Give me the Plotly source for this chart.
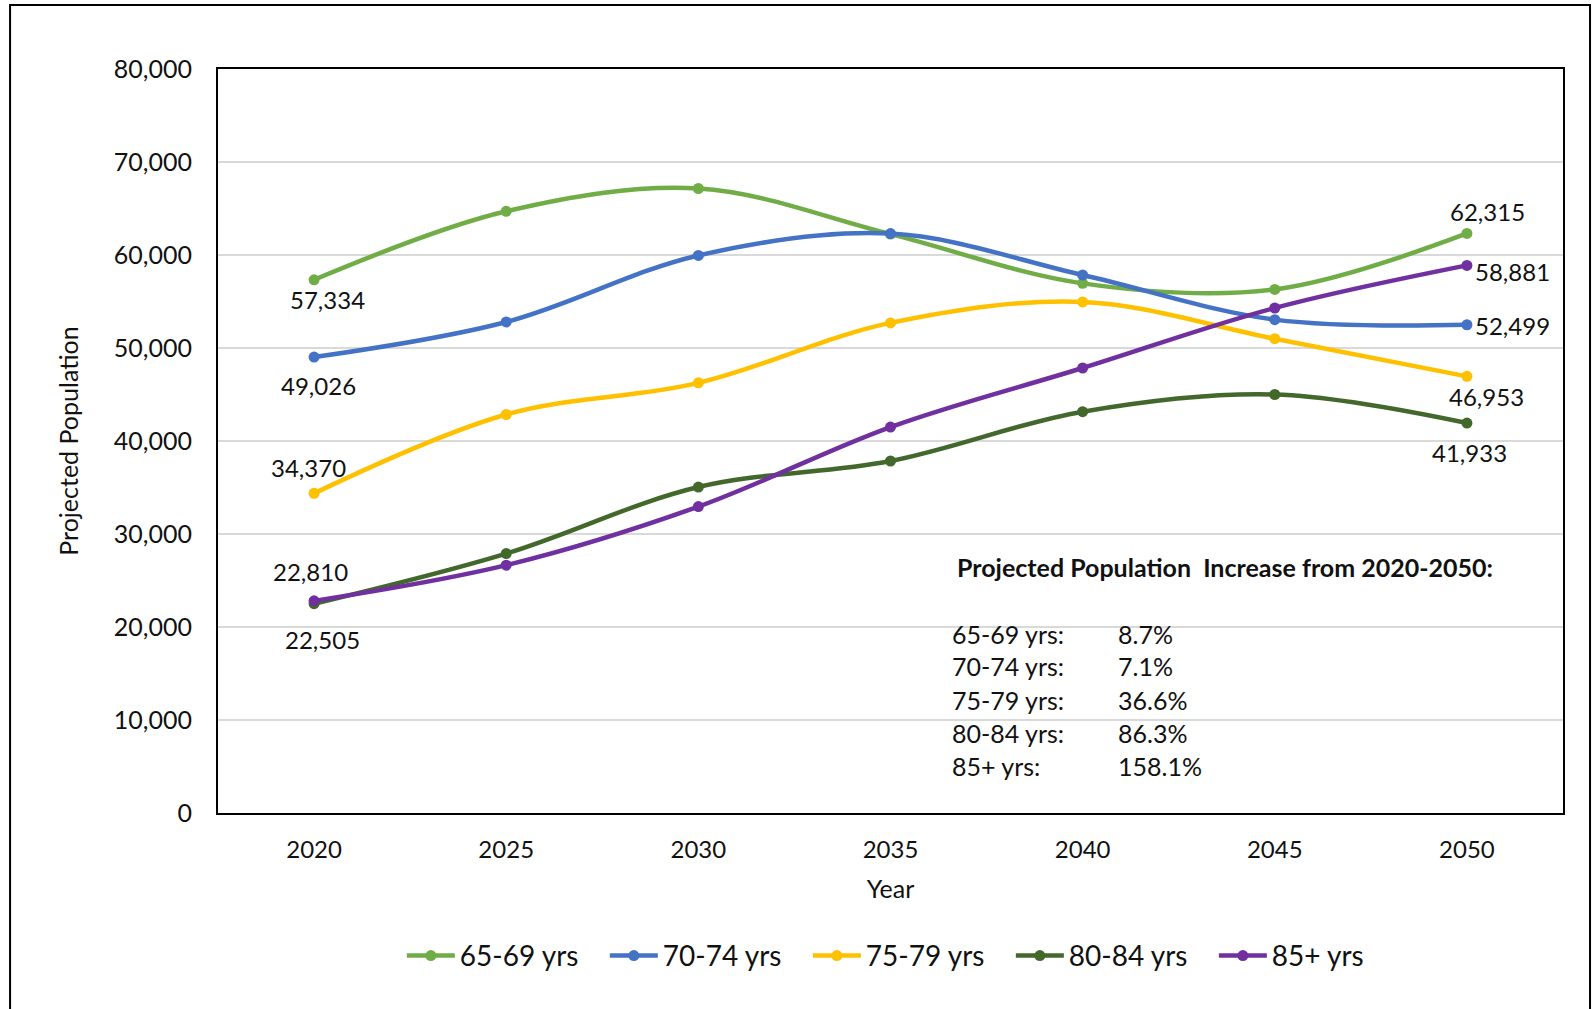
import plotly.graph_objects as go

years = ["2020", "2025", "2030", "2035", "2040", "2045", "2050"]
series_names = ["65-69 yrs", "70-74 yrs", "75-79 yrs", "80-84 yrs", "85+ yrs"]
pop_65_69 = [57334, 64700, 67150, 62250, 56950, 56300, 62315]
pop_70_74 = [49026, 52800, 59950, 62300, 57850, 53050, 52499]
pop_75_79 = [34370, 42850, 46250, 52700, 54950, 51000, 46953]
pop_80_84 = [22505, 27900, 35050, 37850, 43150, 45000, 41933]
pop_85_up = [22810, 26650, 32950, 41500, 47850, 54300, 58881]
y_ticks = [0, 10000, 20000, 30000, 40000, 50000, 60000, 70000, 80000]
y_tick_labels = ["0", "10,000", "20,000", "30,000", "40,000", "50,000", "60,000", "70,000", "80,000"]

all_series = [pop_65_69, pop_70_74, pop_75_79, pop_80_84, pop_85_up]
colors = ["#70AD47", "#4472C4", "#FFC000", "#43682B", "#7030A0"]

# label offsets (px) for first / last point, in series order: (xanchor, xshift, yshift)
start_label_style = [("center", 13, -20), ("center", 4, -28), ("center", -6, 26),
                     ("center", 8, -36), ("center", -4, 29)]
end_label_style = [("center", 21, 22), ("left", 6, -1), ("center", 20, -20),
                   ("center", 3, -29), ("left", 6, -6)]

FONT = "Lato, 'Open Sans', sans-serif"
TXT = "#111111"

fig = go.Figure()
for name, vals, col in zip(series_names, all_series, colors):
    fig.add_trace(go.Scatter(
        x=years, y=vals, name=name, mode="lines+markers",
        line=dict(color=col, width=4.5, shape="spline", smoothing=1.0),
        marker=dict(color=col, size=11),
    ))

annotations = []
last = len(years) - 1
for i, vals in enumerate(all_series):
    for idx, sty in ((0, start_label_style[i]), (last, end_label_style[i])):
        xa, xs, ys = sty
        annotations.append(dict(
            x=idx, y=vals[idx], xref="x", yref="y", text=f"{vals[idx]:,}",
            showarrow=False, xanchor=xa, yanchor="middle", xshift=xs, yshift=ys,
            font=dict(family=FONT, size=24, color=TXT)))

# summary text box
annotations.append(dict(
    x=0.548, y=0.331, xref="paper", yref="paper", xanchor="left", yanchor="middle",
    text="<b>Projected Population  Increase from 2020-2050:</b>", showarrow=False,
    font=dict(family=FONT, size=25, color=TXT)))
row_y = [0.2406, 0.197, 0.152, 0.108, 0.063]
for name, vals, ry in zip(series_names, all_series, row_y):
    pct = (vals[-1] / vals[0] - 1) * 100
    annotations.append(dict(x=0.5445, y=ry, xref="paper", yref="paper", xanchor="left",
                            yanchor="middle", text=f"{name}:", showarrow=False,
                            font=dict(family=FONT, size=25, color=TXT)))
    annotations.append(dict(x=0.668, y=ry, xref="paper", yref="paper", xanchor="left",
                            yanchor="middle", text=f"{pct:.1f}%", showarrow=False,
                            font=dict(family=FONT, size=25, color=TXT)))

shapes = [
    dict(type="rect", xref="paper", yref="paper", x0=0.535, x1=0.965, y0=0.03, y1=0.36,
         fillcolor="white", line=dict(width=0), layer="between"),
    dict(type="rect", xref="paper", yref="paper", x0=-0.1546, x1=1.0201, y0=-0.35, y1=1.086,
         fillcolor="rgba(0,0,0,0)", line=dict(color="black", width=2), layer="above"),
]

fig.update_layout(
    width=1593, height=1009,
    margin=dict(l=218, r=30, t=69, b=196),
    paper_bgcolor="white", plot_bgcolor="white",
    font=dict(family=FONT, size=24, color=TXT),
    showlegend=True,
    legend=dict(orientation="h", x=0.1367, xanchor="left", y=-0.192, yanchor="middle",
                font=dict(family=FONT, size=28, color=TXT), itemwidth=48,
                entrywidth=140, entrywidthmode="pixels", traceorder="normal"),
    annotations=annotations, shapes=shapes,
    xaxis=dict(type="category", range=[-0.5, 6.5], showgrid=False, showline=True,
               linecolor="black", linewidth=2, mirror=True, ticks="",
               ticklabelstandoff=14, tickfont=dict(family=FONT, size=24, color=TXT),
               title=dict(text="Year", standoff=19, font=dict(family=FONT, size=25, color=TXT))),
    yaxis=dict(range=[0, 80000], tickvals=y_ticks, ticktext=y_tick_labels,
               showgrid=True, gridcolor="#D9D9D9", gridwidth=2, zeroline=False,
               showline=True, linecolor="black", linewidth=2, mirror=True, ticks="",
               ticklabelstandoff=19, tickfont=dict(family=FONT, size=25, color=TXT),
               title=dict(text="Projected Population", standoff=28,
                          font=dict(family=FONT, size=25, color=TXT))),
)

fig.write_html(
    "out.html",
    config={"displayModeBar": False},
    post_script="document.body.style.margin='0';document.body.style.overflow='hidden';",
)
